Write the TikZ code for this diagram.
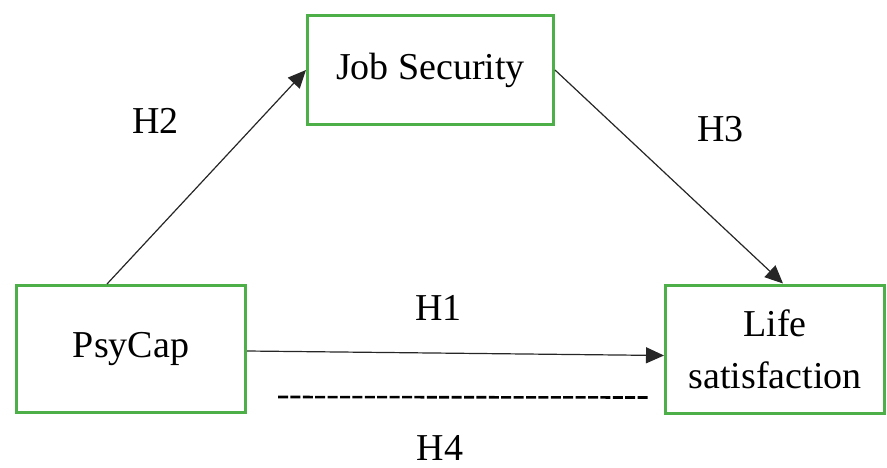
\documentclass[tikz,border=0pt]{standalone}
\usepackage{fontspec}
\setmainfont{Liberation Serif}
\usetikzlibrary{arrows.meta,positioning}
\definecolor{factorgreen}{RGB}{76,175,72}
\newcommand{\PsyModelSize}{0.5}

\begin{document}
\begin{tikzpicture}[
		font=\fontsize{19}{26}\selectfont,
		factor/.style={draw=factorgreen, line width=1.5pt, align=center, inner sep=0pt},
		hyp/.style={-{Triangle[length=9pt,width=8pt]}, line width=0.6pt, draw=black!85},
		hlabel/.style={inner sep=0pt}
	]
		\useasboundingbox (-65.5pt,-59pt) rectangle (378pt,174.5pt);
		\node[factor, minimum width=\PsyModelSize*229pt, minimum height=\PsyModelSize*127pt] (psycap) {PsyCap};
		\node[factor, minimum width=\PsyModelSize*219pt, minimum height=\PsyModelSize*128pt, right=\PsyModelSize*417pt of psycap] (lifesat) {Life\\satisfaction};
		\node[factor, minimum width=\PsyModelSize*246pt, minimum height=\PsyModelSize*109pt, above right=\PsyModelSize*158pt and \PsyModelSize*59pt of psycap] (jobsec) {Job Security};
		\coordinate (h4a) at ([xshift=15.5pt, yshift=-24pt]psycap.east);
		\coordinate (h4b) at ([xshift=-8pt, yshift=-24.25pt]lifesat.west);
		\draw[hyp] ([xshift=-12pt]psycap.north) -- node[hlabel, xshift=-25.5pt, yshift=28pt] {H2} (jobsec.west);
		\draw[hyp] (jobsec.east) -- node[hlabel, xshift=25.75pt, yshift=23.75pt] {H3} ([xshift=4pt]lifesat.north);
		\draw[hyp] ([yshift=-1pt]psycap.east) -- node[hlabel, xshift=-8.5pt, yshift=22.5pt] {H1} ([yshift=-3.25pt]lifesat.west);
		\draw[line width=1.3pt, dash pattern=on 5pt off 1.2pt] (h4a) -- node[hlabel, xshift=-11.5pt, yshift=-25.5pt] {H4} (h4b);
	\end{tikzpicture}
\end{document}
